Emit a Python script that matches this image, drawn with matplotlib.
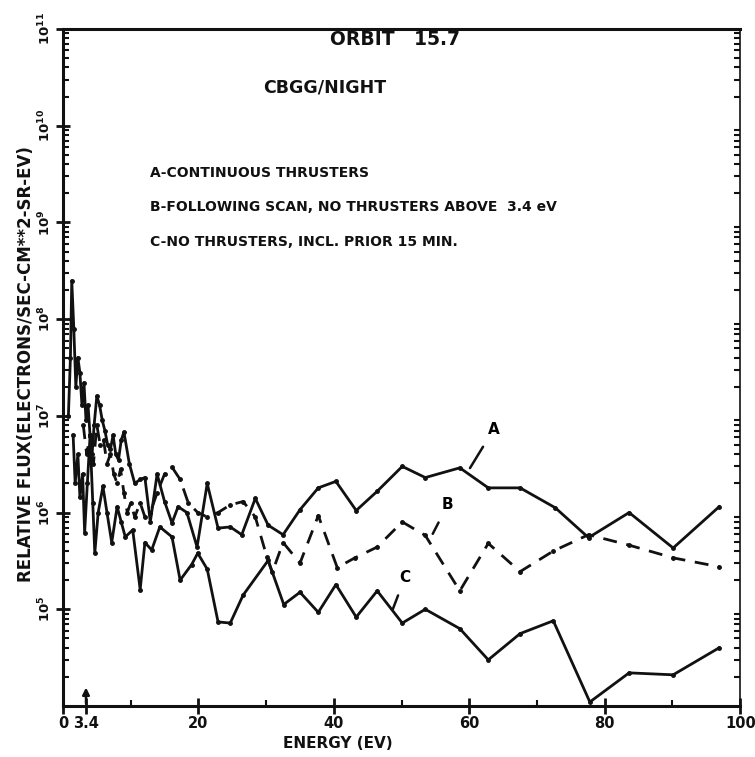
import numpy as np
import matplotlib.pyplot as plt
from matplotlib.ticker import FixedLocator, FuncFormatter, LogLocator, NullFormatter

# Curve A - continuous thrusters (energy in eV, relative flux)
a_energy = [0.8, 1.1, 1.3, 1.6, 1.9, 2.2, 2.5, 2.8, 3.1, 3.4, 3.7, 4.0, 4.3, 4.6,
            5.0, 5.4, 5.8, 6.2, 6.6, 7.0, 7.4, 7.8, 8.2, 8.6, 9.0, 9.8, 10.6,
            11.4, 12.1, 12.9, 13.9, 15.0, 16.1, 17.0, 18.3, 19.8, 21.3, 22.9,
            24.7, 26.4, 28.4, 30.3, 32.5, 35.0, 37.7, 40.3, 43.3, 46.4, 50.1,
            53.5, 58.6, 62.8, 67.5, 72.7, 77.6, 83.6, 90.1, 96.9]
a_flux = [1.0e7, 4.0e7, 2.5e8, 8.0e7, 2.0e7, 4.0e7, 2.8e7, 1.3e7, 2.2e7, 9.0e6,
          1.3e7, 6.3e6, 4.0e6, 8.0e6, 1.6e7, 1.3e7, 9.0e6, 7.0e6, 5.0e6, 4.5e6,
          6.3e6, 4.0e6, 3.5e6, 5.6e6, 6.8e6, 3.2e6, 2.0e6, 2.2e6, 2.3e6, 8.0e5,
          2.5e6, 1.3e6, 7.8e5, 1.15e6, 1.0e6, 4.4e5, 2.0e6, 6.9e5, 7.1e5,
          5.9e5, 1.4e6, 7.4e5, 5.9e5, 1.07e6, 1.8e6, 2.1e6, 1.05e6, 1.66e6,
          3.0e6, 2.3e6, 2.9e6, 1.8e6, 1.8e6, 1.12e6, 5.5e5, 1.0e6, 4.3e5,
          1.15e6]

# Curve B - following scan, no thrusters above 3.4 eV
b_energy = [3.0, 3.5, 4.0, 4.5, 5.0, 5.5, 6.0, 6.5, 7.0, 7.5, 8.0, 8.5, 9.0, 9.5,
            10.0, 10.6, 11.4, 12.1, 12.9, 13.9, 15.0, 16.1, 17.3, 18.5, 19.9,
            21.3, 22.9, 24.7, 26.6, 28.4, 30.1, 30.9, 32.5, 35.0, 37.7, 40.5,
            43.1, 46.4, 50.1, 53.5, 58.6, 62.8, 67.5, 72.4, 77.6, 83.6, 90.1,
            96.9]
b_flux = [8.0e6, 4.0e6, 6.3e6, 3.2e6, 8.0e6, 5.0e6, 5.6e6, 3.2e6, 4.0e6, 2.5e6,
          2.0e6, 2.8e6, 1.6e6, 1.0e6, 1.26e6, 9.0e5, 1.26e6, 9.0e5, 1.0e6,
          1.6e6, 2.5e6, 2.95e6, 2.2e6, 1.26e6, 1.0e6, 9.0e5, 1.0e6, 1.2e6,
          1.3e6, 9.0e5, 3.5e5, 2.4e5, 4.9e5, 3.0e5, 9.3e5, 2.7e5, 3.4e5,
          4.4e5, 8.0e5, 5.8e5, 1.55e5, 4.8e5, 2.45e5, 4.0e5, 5.9e5, 4.6e5,
          3.4e5, 2.75e5]

# Curve C - no thrusters, incl. prior 15 min
c_energy = [1.5, 1.8, 2.2, 2.5, 2.9, 3.2, 3.6, 4.0, 4.4, 4.7, 5.2, 5.9, 6.5, 7.2,
            8.0, 8.6, 9.2, 10.3, 11.4, 12.1, 13.1, 14.3, 16.1, 17.3, 19.0, 19.9,
            21.3, 22.9, 24.7, 26.6, 30.3, 32.6, 35.0, 37.7, 40.3, 43.3, 46.4,
            50.1, 53.5, 58.6, 62.8, 67.5, 72.4, 77.8, 83.6, 90.1, 96.9]
c_flux = [6.3e6, 2.0e6, 4.0e6, 1.45e6, 2.5e6, 6.2e5, 2.0e6, 6.2e6, 1.26e6,
          3.8e5, 1.0e6, 1.86e6, 1.0e6, 4.9e5, 1.15e6, 8.0e5, 5.6e5, 6.6e5,
          1.6e5, 4.9e5, 4.1e5, 7.1e5, 5.6e5, 2.0e5, 2.9e5, 3.8e5, 2.6e5,
          7.4e4, 7.2e4, 1.4e5, 3.2e5, 1.12e5, 1.5e5, 9.3e4, 1.8e5, 8.3e4,
          1.55e5, 7.2e4, 1.0e5, 6.3e4, 3.0e4, 5.6e4, 7.6e4, 1.1e4, 2.2e4,
          2.1e4, 4.0e4]

x_ticks = [0, 3.4, 20, 40, 60, 80, 100]
x_tick_labels = ['0', '3.4', '20', '40', '60', '80', '100']
y_decades = [1e5, 1e6, 1e7, 1e8, 1e9, 1e10, 1e11]

ink = '#111111'
plt.rcParams['font.family'] = 'DejaVu Sans'
plt.rcParams['font.weight'] = 'bold'

fig = plt.figure(figsize=(7.55, 7.57), dpi=100)
ax = fig.add_axes([0.0834, 0.0674, 0.897, 0.8943])

ax.plot(a_energy, a_flux, '-', color=ink, lw=2.0, marker='o', ms=2.5)
ax.plot(b_energy, b_flux, color=ink, lw=2.0, marker='o', ms=2.5,
        linestyle=(0, (5, 3.5)))
ax.plot(c_energy, c_flux, '-', color=ink, lw=2.0, marker='o', ms=2.5)

ax.set_yscale('log')
ax.set_xlim(0, 100)
ax.set_ylim(1e4, 1e11)

# y axis ticks: rotated decade labels, dense minor ticks
ax.yaxis.set_major_locator(FixedLocator(y_decades))
ax.yaxis.set_major_formatter(
    FuncFormatter(lambda v, p: r'$\mathbf{10^{%d}}$' % round(np.log10(v))))
ax.yaxis.set_minor_locator(LogLocator(base=10, subs=np.arange(2, 10)))
ax.yaxis.set_minor_formatter(NullFormatter())
ax.tick_params(axis='y', which='major', direction='inout', length=10,
               width=2, labelsize=9.5, pad=2, labelrotation=90, colors=ink)
ax.tick_params(axis='y', which='minor', direction='in', length=4, width=1.5,
               right=True, colors=ink)
for lbl in ax.get_yticklabels():
    lbl.set_va('center')

# x axis ticks
ax.set_xticks(x_ticks)
ax.set_xticklabels(x_tick_labels)
ax.set_xticks([10, 30, 50, 70, 90], minor=True)
ax.tick_params(axis='x', which='major', direction='inout', length=12,
               width=2, labelsize=10.5, pad=1, colors=ink)
ax.tick_params(axis='x', which='minor', direction='in', length=4, width=1.5,
               colors=ink)

for side in ['left', 'bottom', 'top', 'right']:
    ax.spines[side].set_linewidth(2.2)
    ax.spines[side].set_color(ink)
ax.spines['right'].set_linewidth(1.2)

ax.set_xlabel('ENERGY (EV)', fontsize=11, fontweight='bold', color=ink,
              labelpad=8)
ax.xaxis.set_label_coords(0.406, -0.045)
ax.set_ylabel('RELATIVE FLUX(ELECTRONS/SEC-CM**2-SR-EV)', fontsize=12,
              fontweight='bold', color=ink, labelpad=3)
ax.yaxis.set_label_coords(-0.041, 0.505)

# header text
ax.text(0.394, 0.984, 'ORBIT   15.7', transform=ax.transAxes, fontsize=13.5,
        fontweight='bold', ha='left', va='center', color=ink)
ax.text(0.295, 0.913, 'CBGG/NIGHT', transform=ax.transAxes, fontsize=12.5,
        fontweight='bold', ha='left', va='center', color=ink)
ax.text(0.128, 0.787, 'A-CONTINUOUS THRUSTERS', transform=ax.transAxes,
        fontsize=10, fontweight='bold', ha='left', va='center', color=ink)
ax.text(0.128, 0.737, 'B-FOLLOWING SCAN, NO THRUSTERS ABOVE  3.4 eV',
        transform=ax.transAxes, fontsize=10, fontweight='bold', ha='left',
        va='center', color=ink)
ax.text(0.128, 0.685, 'C-NO THRUSTERS, INCL. PRIOR 15 MIN.',
        transform=ax.transAxes, fontsize=10, fontweight='bold', ha='left',
        va='center', color=ink)

# curve labels with leader lines
leader = dict(arrowstyle='-', color=ink, lw=1.8, shrinkA=6, shrinkB=0)
ax.annotate('A', xy=(60.1, 10**6.46), xytext=(63.6, 10**6.86), fontsize=11,
            fontweight='bold', ha='center', va='center', arrowprops=leader)
ax.annotate('B', xy=(54.6, 10**5.78), xytext=(56.8, 10**6.08), fontsize=11,
            fontweight='bold', ha='center', va='center', arrowprops=leader)
ax.annotate('C', xy=(48.7, 10**5.0), xytext=(50.5, 10**5.33), fontsize=11,
            fontweight='bold', ha='center', va='center', arrowprops=leader)

# marker arrow at 3.4 eV
ax.annotate('', xy=(3.4, 10**4.22), xytext=(3.4, 1e4),
            arrowprops=dict(arrowstyle='-|>', color=ink, lw=1.8,
                            mutation_scale=10))

fig.savefig('out.png', dpi=100)
